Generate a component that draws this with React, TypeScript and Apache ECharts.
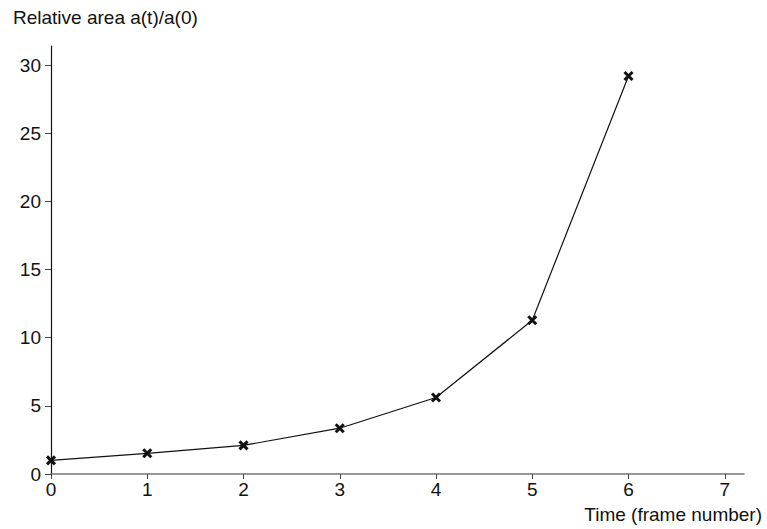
import React, { useEffect, useRef } from "react";
import * as echarts from "echarts";

const frames = [0, 1, 2, 3, 4, 5, 6];
const relativeArea = [1.0, 1.52, 2.1, 3.36, 5.61, 11.28, 29.2];
const yTicks = [0, 5, 10, 15, 20, 25, 30];
const xTicks = [0, 1, 2, 3, 4, 5, 6, 7];

const FONT = "'Liberation Sans', Arial, sans-serif";

export default function App() {
  const ref = useRef<HTMLDivElement>(null);
  useEffect(() => {
    if (!ref.current) return;
    const chart = echarts.init(ref.current, null, { renderer: "svg" });
    chart.setOption({
      animation: false,
      backgroundColor: "#ffffff",
      grid: { left: 51, right: 23, top: 46, bottom: 55, containLabel: false },
      xAxis: {
        type: "value",
        min: 0,
        max: 7.2,
        interval: 1,
        axisLine: { show: true, lineStyle: { color: "#777777", width: 1.5 } },
        axisTick: { show: true, length: 5, customValues: xTicks, lineStyle: { color: "#444444" } },
        axisLabel: { customValues: xTicks, color: "#111111", fontSize: 19, fontFamily: FONT, margin: 6 },
        splitLine: { show: false },
      },
      yAxis: {
        type: "value",
        min: 0,
        max: 31.4,
        interval: 5,
        axisLine: { show: true, onZero: false, lineStyle: { color: "#111111", width: 1.2 } },
        axisTick: { show: true, length: 6, customValues: yTicks, lineStyle: { color: "#444444" } },
        axisLabel: { customValues: yTicks, color: "#111111", fontSize: 19, fontFamily: FONT, margin: 10 },
        splitLine: { show: false },
      },
      graphic: [
        {
          type: "text",
          left: 13,
          top: 8,
          style: { text: "Relative area a(t)/a(0)", fontSize: 19, fontFamily: FONT, fill: "#111111" },
        },
        {
          type: "text",
          right: 5,
          top: 505,
          style: { text: "Time (frame number)", fontSize: 19, fontFamily: FONT, fill: "#111111" },
        },
      ],
      series: [
        {
          type: "line",
          data: frames.map((f, i) => [f, relativeArea[i]]),
          lineStyle: { color: "#111111", width: 1.2 },
          symbol: "path://M0,0L10,10M10,0L0,10",
          symbolSize: 8,
          itemStyle: { color: "#111111", borderColor: "#111111", borderWidth: 3 },
          showSymbol: true,
        },
      ],
    });
    return () => chart.dispose();
  }, []);
  return <div ref={ref} style={{ width: 767, height: 529, position: "absolute", left: 0, top: 0 }} />;
}
